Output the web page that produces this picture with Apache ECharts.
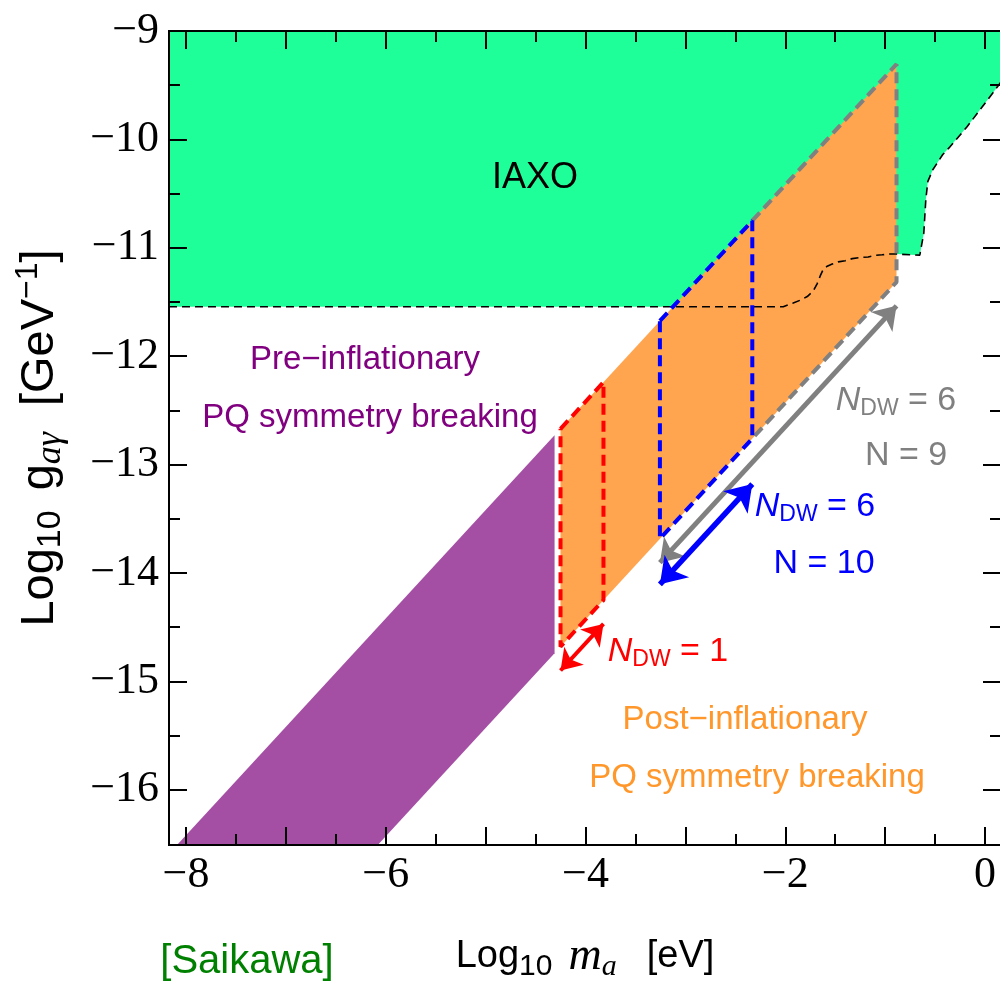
<!DOCTYPE html>
<html>
<head>
<meta charset="utf-8">
<script src="https://cdn.jsdelivr.net/npm/echarts@6/dist/echarts.min.js"></script>
<style>
  html, body { margin: 0; padding: 0; background: #ffffff; }
  #chart { width: 1000px; height: 987px; }
</style>
</head>
<body>
<div id="chart"></div>
<script>
// ---- axis extents and ticks (log10 m_a [eV], log10 g_ag [GeV^-1]) ----
const xRange = [-8.17, 0.16];
const yRange = [-16.51, -9];
const xMajorTicks = [-8, -7, -6, -5, -4, -3, -2, -1, 0];
const xMinorTicks = [-7.5, -6.5, -5.5, -4.5, -3.5, -2.5, -1.5, -0.5];
const xTickLabels = [-8, -6, -4, -2, 0];
const yMajorTicks = [-16, -15, -14, -13, -12, -11, -10, -9];
const yMinorTicks = [-15.5, -14.5, -13.5, -12.5, -11.5, -10.5, -9.5];
const yTickLabels = [-16, -15, -14, -13, -12, -11, -10, -9];

// ---- QCD axion band: log g = log m + c ----
const bandTop = -8.42;
const bandBottom = -10.43;
const preInflationMax = -4.31;            // pre-inflationary scenario, m below this
const postInflationRange = [-4.25, -0.886];
const ndw1Range = [-4.25, -3.82];         // N_DW = 1
const ndw6n10Range = [-3.255, -2.33];     // N_DW = 6, N = 10
const ndw6n9Range = [-3.255, -0.886];     // N_DW = 6, N = 9
const arrowOffsets = [-0.22, -0.42, -0.22]; // N_DW=1, (6,10), (6,9) below the band

// ---- IAXO sensitivity boundary ----
const iaxoM = [-8.17, -2.02, -1.92, -1.84, -1.78, -1.72, -1.68, -1.65, -1.62, -1.58,
  -1.53, -1.47, -1.40, -1.33, -1.25, -1.17, -1.10, -1.03, -0.96, -0.886,
  -0.653, -0.613, -0.593, -0.573, -0.523, -0.423, -0.353, -0.182, -0.052, 0.078, 0.16];
const iaxoG = [-11.544, -11.544, -11.51, -11.48, -11.45, -11.40, -11.33, -11.26, -11.20, -11.17,
  -11.15, -11.13, -11.12, -11.10, -11.09, -11.085, -11.07, -11.065, -11.058, -11.058,
  -11.068, -10.865, -10.56, -10.39, -10.28, -10.14, -10.071, -9.886, -9.729, -9.572, -9.47];

const COLORS = {
  iaxo: '#1eff9a',
  pre: '#a44fa4',
  post: '#ffa54f',
  red: '#ff0000',
  blue: '#0000ff',
  gray: '#808080',
  preText: '#800080',
  postText: '#ff972b',
  cite: '#008000'
};
const sans = '"Liberation Sans", Arial, sans-serif';
const serif = '"Liberation Serif", "Times New Roman", serif';

const onTop = m => m + bandTop;
const onBottom = m => m + bandBottom;
const minus = v => (v < 0 ? '\u2212' + Math.abs(v) : String(v));

function polygonSeries(name, pts, color, z) {
  return {
    type: 'custom', name, z, silent: true,
    coordinateSystem: 'cartesian2d',
    data: [pts[0]],
    renderItem: (params, api) => ({
      type: 'polygon',
      shape: { points: pts.map(p => api.coord(p)) },
      style: { fill: color }
    })
  };
}

function dashedPath(name, pts, color, z) {
  return {
    type: 'line', name, z, silent: true,
    data: pts,
    showSymbol: false, symbol: 'none',
    lineStyle: { color, width: 4, type: [11, 6] },
    animation: false
  };
}

function boxPoints(r) {
  return [[r[0], onTop(r[0])], [r[1], onTop(r[1])], [r[1], onBottom(r[1])],
          [r[0], onBottom(r[0])], [r[0], onTop(r[0])]];
}

// double arrow running parallel to the lower edge of the band
function arrow(r, off) {
  return [[r[0], onBottom(r[0]) + off], [r[1], onBottom(r[1]) + off]];
}

const prePoly = [
  [yRange[0] - bandTop, yRange[0]],
  [preInflationMax, onTop(preInflationMax)],
  [preInflationMax, onBottom(preInflationMax)],
  [yRange[0] - bandBottom, yRange[0]]
];
const postPoly = [
  [postInflationRange[0], onTop(postInflationRange[0])],
  [postInflationRange[1], onTop(postInflationRange[1])],
  [postInflationRange[1], onBottom(postInflationRange[1])],
  [postInflationRange[0], onBottom(postInflationRange[0])]
];
// N = 9 outline: the part to the left is covered by the N = 10 box
const grayStart = ndw6n10Range[1];
const grayPath = [
  [grayStart, onTop(grayStart)],
  [ndw6n9Range[1], onTop(ndw6n9Range[1])],
  [ndw6n9Range[1], onBottom(ndw6n9Range[1])],
  [grayStart, onBottom(grayStart)]
];
const iaxoData = iaxoM.map((m, i) => [m, iaxoG[i]]);

const axisLineStyle = { color: '#000', width: 2 };
function xAxisDef(position, ticks, len, labels, extra) {
  return Object.assign({
    type: 'value', position, min: xRange[0], max: xRange[1], z: 10,
    axisLine: { show: true, onZero: false, lineStyle: axisLineStyle },
    axisTick: { show: true, inside: true, length: len, customValues: ticks, lineStyle: { color: '#000', width: 2 } },
    axisLabel: labels ? {
      show: true, customValues: labels, formatter: minus,
      fontFamily: serif, fontSize: 44, color: '#000', margin: 8
    } : { show: false },
    splitLine: { show: false }
  }, extra || {});
}
function yAxisDef(position, ticks, len, labels, extra) {
  return Object.assign({
    type: 'value', position, min: yRange[0], max: yRange[1], z: 10,
    axisLine: { show: true, onZero: false, lineStyle: axisLineStyle },
    axisTick: { show: true, inside: true, length: len, customValues: ticks, lineStyle: { color: '#000', width: 2 } },
    axisLabel: labels ? {
      show: true, customValues: labels, formatter: minus,
      fontFamily: serif, fontSize: 44, color: '#000', margin: 10
    } : { show: false },
    splitLine: { show: false }
  }, extra || {});
}

const xTitleRich = {
  r: { fontFamily: sans, fontSize: 38, color: '#000' },
  s: { fontFamily: sans, fontSize: 30, color: '#000', padding: [20, 0, 0, 0] },
  gap: { fontFamily: sans, fontSize: 38, width: 16 },
  gap2: { fontFamily: sans, fontSize: 38, width: 30 },
  mi: { fontFamily: serif, fontStyle: 'italic', fontSize: 46, color: '#000' },
  ms: { fontFamily: serif, fontStyle: 'italic', fontSize: 30, color: '#000', padding: [20, 0, 0, 0] }
};
const yTitleRich = {
  r: { fontFamily: sans, fontSize: 47, color: '#000' },
  s: { fontFamily: sans, fontSize: 34, color: '#000', padding: [22, 0, 0, 0] },
  gap: { fontFamily: sans, fontSize: 47, width: 20 },
  gap2: { fontFamily: sans, fontSize: 47, width: 26 },
  gs: { fontFamily: serif, fontStyle: 'italic', fontSize: 36, color: '#000', padding: [22, 0, 0, 0] },
  sup: { fontFamily: sans, fontSize: 32, color: '#000', padding: [0, 0, 24, 0] }
};

const chart = echarts.init(document.getElementById('chart'), null, { renderer: 'canvas' });

function ndwLabel(x, y, value, color) {
  return {
    type: 'text', x, y, z: 20, silent: true,
    style: {
      text: '{n|N}{d|DW}{e| = ' + value + '}',
      fill: color, align: 'center', verticalAlign: 'middle',
      rich: {
        n: { fontFamily: sans, fontStyle: 'italic', fontSize: 34 },
        d: { fontFamily: sans, fontSize: 23, padding: [16, 0, 0, 0] },
        e: { fontFamily: sans, fontSize: 34 }
      }
    }
  };
}
function plainLabel(x, y, text, color, size) {
  return {
    type: 'text', x, y, z: 20, silent: true,
    style: {
      text, fill: color, align: 'center', verticalAlign: 'middle',
      font: (size || 33) + 'px ' + sans
    }
  };
}

chart.setOption({
  animation: false,
  backgroundColor: '#ffffff',
  grid: {
    left: 169, top: 31, width: 832, height: 814,
    containLabel: false, outerBoundsMode: 'none'
  },
  xAxis: [
    xAxisDef('bottom', xMajorTicks, 18, xTickLabels, {
      name: '{r|Log}{s|10}{gap| }{mi|m}{ms|a}{gap2| }{r|[eV]}',
      nameLocation: 'middle', nameGap: 87,
      nameTextStyle: { rich: xTitleRich }
    }),
    xAxisDef('bottom', xMinorTicks, 11, null),
    xAxisDef('top', xMajorTicks, 18, null),
    xAxisDef('top', xMinorTicks, 11, null)
  ],
  yAxis: [
    yAxisDef('left', yMajorTicks, 18, yTickLabels, {
      name: '{r|Log}{s|10}{gap| }{r|g}{gs|a\u03b3}{gap2| }{r|[GeV}{sup|\u22121}{r|]}',
      nameLocation: 'middle', nameGap: 100,
      nameTextStyle: { rich: yTitleRich }
    }),
    yAxisDef('left', yMinorTicks, 11, null),
    yAxisDef('right', yMajorTicks, 18, null),
    yAxisDef('right', yMinorTicks, 11, null)
  ],
  series: [
    {
      type: 'line', name: 'IAXO', z: 1, silent: true,
      data: iaxoData, showSymbol: false, symbol: 'none',
      lineStyle: { width: 0 },
      areaStyle: { color: COLORS.iaxo, opacity: 1, origin: 'end' }
    },
    polygonSeries('Pre-inflationary', prePoly, COLORS.pre, 2),
    polygonSeries('Post-inflationary', postPoly, COLORS.post, 2),
    {
      type: 'line', name: 'IAXO boundary', z: 3, silent: true,
      data: iaxoData, showSymbol: false, symbol: 'none',
      lineStyle: { color: '#000', width: 1.6, type: [8, 5] }
    },
    dashedPath('N = 9', grayPath, COLORS.gray, 4),
    dashedPath('N = 10', boxPoints(ndw6n10Range), COLORS.blue, 5),
    dashedPath('N_DW = 1', boxPoints(ndw1Range), COLORS.red, 5),
    {
      type: 'lines', coordinateSystem: 'cartesian2d', z: 6, silent: true,
      symbol: ['arrow', 'arrow'], symbolSize: 22,
      lineStyle: { color: COLORS.gray, width: 5, opacity: 1 },
      data: [{ coords: arrow(ndw6n9Range, arrowOffsets[2]) }]
    },
    {
      type: 'lines', coordinateSystem: 'cartesian2d', z: 6, silent: true,
      symbol: ['arrow', 'arrow'], symbolSize: 25,
      lineStyle: { color: COLORS.blue, width: 5.5, opacity: 1 },
      data: [{ coords: arrow(ndw6n10Range, arrowOffsets[1]) }]
    },
    {
      type: 'lines', coordinateSystem: 'cartesian2d', z: 6, silent: true,
      symbol: ['arrow', 'arrow'], symbolSize: 20,
      lineStyle: { color: COLORS.red, width: 4, opacity: 1 },
      data: [{ coords: arrow(ndw1Range, arrowOffsets[0]) }]
    }
  ],
  graphic: [
    plainLabel(535, 178, 'IAXO', '#000', 36),
    plainLabel(365, 360, 'Pre\u2212inflationary', COLORS.preText),
    plainLabel(370, 418, 'PQ symmetry breaking', COLORS.preText),
    ndwLabel(896, 401, '6', COLORS.gray),
    plainLabel(906, 456, 'N = 9', COLORS.gray, 34),
    ndwLabel(815, 507, '6', COLORS.blue),
    plainLabel(824, 564, 'N = 10', COLORS.blue, 34),
    ndwLabel(668, 652, '1', COLORS.red),
    plainLabel(745, 720, 'Post\u2212inflationary', COLORS.postText),
    plainLabel(757, 778, 'PQ symmetry breaking', COLORS.postText),
    plainLabel(247, 962, '[Saikawa]', COLORS.cite, 40)
  ]
});
</script>
</body>
</html>
